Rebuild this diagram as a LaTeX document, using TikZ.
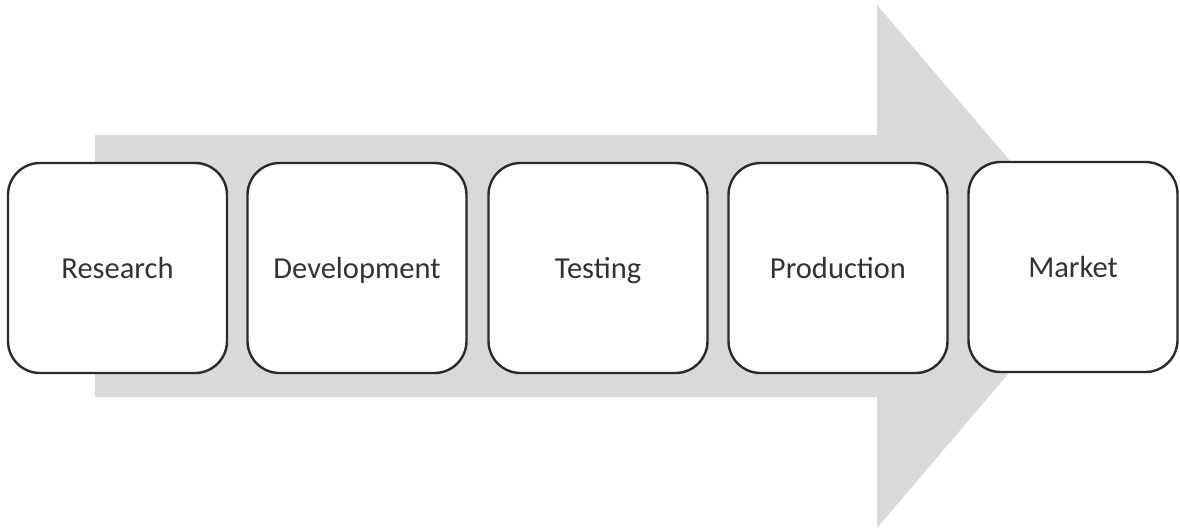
\documentclass[tikz,border=0pt]{standalone}
\usepackage{fontspec}
\setmainfont{Carlito}
\definecolor{flowgray}{HTML}{D9D9D9}
\definecolor{edgegray}{HTML}{2A2A2A}
\definecolor{labelgray}{HTML}{333333}
\begin{document}
\begin{tikzpicture}[x=1pt, y=-1pt,
  stage/.style={draw=edgegray, line width=2.4pt, fill=white, rounded corners=32pt,
    minimum width=219pt, minimum height=210pt, inner sep=0pt,
    text height=23pt, text depth=3pt,
    font=\fontsize{30.5}{36}\selectfont, text=labelgray}]
  \useasboundingbox (0,0) rectangle (1180,530);
  % broad background arrow
  \fill[flowgray] (95,135) -- (877,135) -- (877,5) -- (1100,266) -- (877,528)
    -- (877,397) -- (95,397) -- cycle;
  % process stages
  \node[stage] (research) at (117.5,268) {Research};
  \node[stage] (development) at (357,268) {Development};
  \node[stage] (testing) at (598,268) {Testing};
  \node[stage] (production) at (838,268) {Production};
  \node[stage, minimum width=209pt] (market) at (1073,267) {Market};
\end{tikzpicture}
\end{document}
